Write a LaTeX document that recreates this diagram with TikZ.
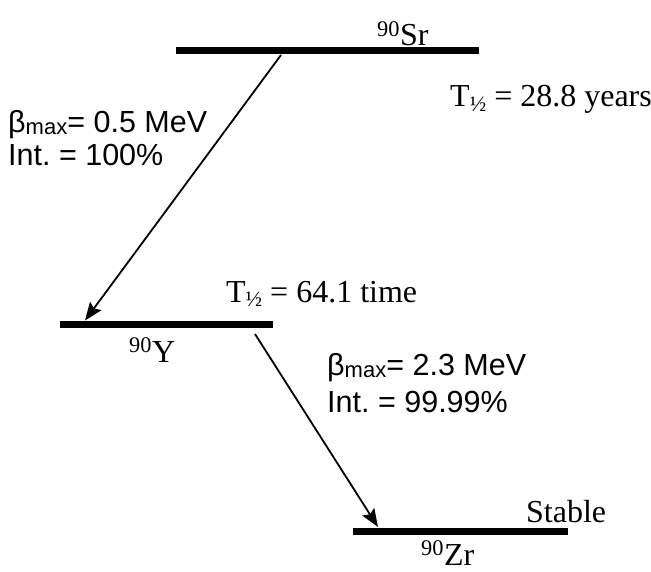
\documentclass[tikz,border=0pt]{standalone}
\usepackage{fontspec}
\setmainfont{Liberation Serif}
\setsansfont{Liberation Sans}
\usetikzlibrary{arrows.meta}
\frenchspacing
\newcommand{\halfsub}{{\fontsize{22}{22}\selectfont\raisebox{-5pt}{½}}}
\newcommand{\maxsub}{{\fontsize{22}{22}\selectfont\raisebox{-2pt}{max}}}
\tikzset{
  level/.style={line width=7pt},
  decay/.style={line width=1.8pt,-{Stealth[length=18pt,width=14pt,inset=3pt]}},
  serif/.style={inner sep=0pt,anchor=base west,font=\fontsize{32}{38}\selectfont\rmfamily},
  sans/.style={inner sep=0pt,anchor=base west,font=\fontsize{30.5}{34}\selectfont\sffamily},
}
\begin{document}
\begin{tikzpicture}[x=1pt,y=-1pt]
\useasboundingbox (0,0) rectangle (651,572);
% levels
\coordinate (srL) at (176,51); \coordinate (srR) at (479,51);
\coordinate (yL) at (60,324.5); \coordinate (yR) at (273,324.5);
\coordinate (zrL) at (353,531); \coordinate (zrR) at (568,531);
\draw[level] (srL) -- (srR);
\draw[level] (yL) -- (yR);
\draw[level] (zrL) -- (zrR);
% decay arrows
\coordinate (a1s) at (281,55);
\coordinate (a1e) at (85,320.5);
\coordinate (a2s) at (255,334);
\coordinate (a2e) at (378,527);
\draw[decay] (a1s) -- (a1e);
\draw[decay] (a2s) -- (a2e);
% labels
\node[serif] (sr) at (377,46) {\textsuperscript{90}Sr};
\node[serif] (tsr) at (450,107) {T\halfsub\ = 28.8 years};
\node[serif] (ty) at (226,302) {T\halfsub\ = 64.1 time};
\node[serif] (y) at (129,362) {\textsuperscript{90}Y};
\node[serif] (st) at (526,522) {Stable};
\node[serif] (zr) at (421,565) {\textsuperscript{90}Zr};
\node[sans] (b1) at (8,133) {β\maxsub= 0.5 MeV};
\node[sans] (i1) at (8,166) {Int. = 100\%};
\node[sans] (b2) at (327,375.5) {β\maxsub= 2.3 MeV};
\node[sans] (i2) at (327,412.5) {Int. = 99.99\%};
\end{tikzpicture}
\end{document}
